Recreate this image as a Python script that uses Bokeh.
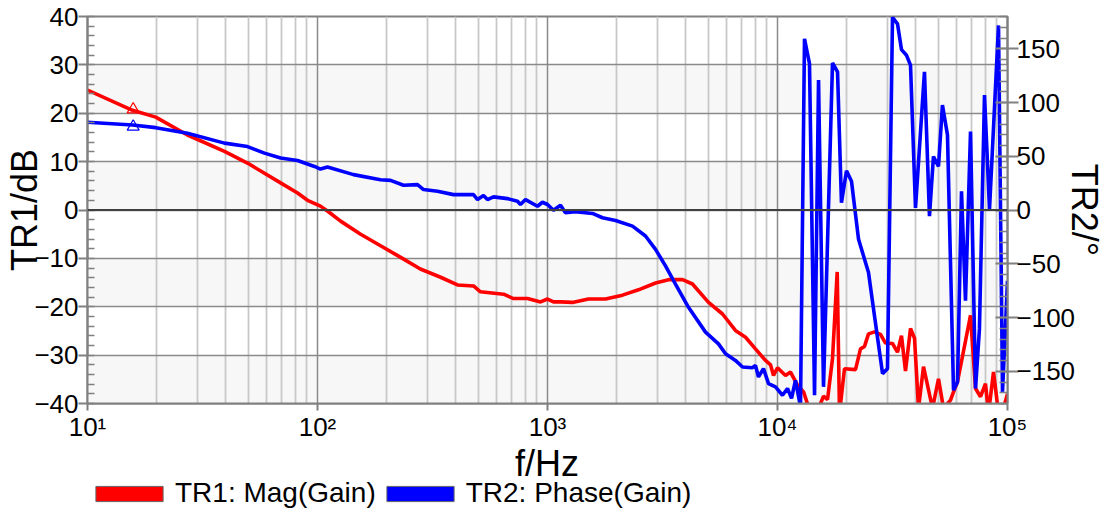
from bokeh.plotting import figure
from bokeh.layouts import column
from bokeh.models import (Range1d, LinearAxis, FixedTicker, Span, BoxAnnotation, Legend, LegendItem,
                          Label)
from bokeh.embed import file_html
from bokeh.resources import INLINE

FONT = "Liberation Sans"
NAN = float("nan")

# ---------------- data ----------------
freq_mag = [10, 15.7, 19.8, 27.2, 39.4, 49.6, 69.1, 81.9, 90.5, 103, 110.5, 126, 154, 188, 230, 280,
            343, 406, 477, 511, 644, 711, 819, 933, 1000, 1062, 1139, 1284, 1507, 1787, 2119, 2487,
            2949, 3359, 3864, 4268, 5012, 5768, 6563, 7261, 8019, 8868, 9326, 9608, 10000, 10834,
            11390, 12218, 12982, 13917, 15080, 15849, 16502, 17345, 18180, 18603, 19558, 21837,
            22955, 23895, 24870, 26410, 28040, 29480, 31623, 33240, 34600, 36020, 37870, 39420,
            41030, 43130, 47200, 50119, 52690, 56530, 58250, 60630, 69060, 72610, 76330, 80240,
            82690, 86940, 91400, 96080, 100000]
mag_db = [24.8, 20.6, 19.2, 15.5, 12.1, 9.7, 5.6, 3.5, 2.0, 0.8, -0.2, -2.3, -5.0, -7.4, -9.8, -12.2,
          -13.9, -15.5, -15.7, -16.9, -17.4, -18.3, -18.3, -19.0, -18.4, -19.0, -19.0, -19.1, -18.4,
          -18.4, -17.6, -16.5, -15.1, -14.4, -14.4, -15.3, -19.1, -21.5, -24.9, -26.3, -28.7, -31.1,
          -32.0, -34.2, -32.6, -34.2, -33.5, -36.2, -37.6, -42.0, -41.0, -38.5, -39.2, -30.7, -12.8,
          -42.0, -32.8, -33.0, -28.7, -28.2, -25.6, -25.2, -25.7, -27.5, -27.6, -29.4, -26.0, -33.3,
          -24.5, -26.5, -41.0, -32.4, -41.0, -34.9, -41.0, -39.3, -37.6, -35.5, -21.8, -36.9, -38.6,
          -35.9, -42.0, -33.5, -42.0, -41.0, -38.0]

freq_phase = [10, 15.7, 19.8, 27.2, 39.4, 49.6, 58.8, 69.1, 81.9, 97.0, 103, 110.5, 143.4, 187.9, 207.7,
              236.6, 272.2, 289, 332.5, 390.2, 476.8, 496.3, 526.9, 548.3, 582.1, 669.9, 740.6, 762.9,
              802.4, 904.6, 950.6, 1000, 1062, 1139, 1197, 1323, 1569, 1734, 1976, 2342, 2668, 2949,
              3258, 3601, 4102, 4864, 5539, 5943, 6563, 7046, 7786, 8019, 8268, 8690, 9141, 9800,
              10513, 11053, 11508, 11971, 12589, 13104, 13775, 14488, 15080, 15849, 17345, 18239,
              18970, 19953, 20975, 22510, 24870, 26150, 28620, 30070, 31623, 33240, 34600, 36390,
              37870, 39811, 43550, 45790, 47650, 50119, 52130, 54830, 58250, 60630, 63096, 65660,
              69060, 72610, 75510, 79430, 83520, 91400, 95130, 100000]
phase_deg = [81.6, 79.1, 76.6, 71.4, 62.2, 59.0, 52.9, 48.3, 46.1, 40.5, 38.1, 40.0, 32.9, 28.2, 27.6,
             23.0, 23.6, 19.0, 17.4, 14.3, 14.3, 9.7, 13.4, 9.7, 12.2, 10.6, 8.1, 5.1, 9.7, 3.5, 7.2,
             5.1, -0.2, 4.4, -2.6, -1.7, -3.2, -7.2, -9.7, -15.0, -24.2, -36.6, -52.0, -68.9, -90.5,
             -113.6, -124.5, -133.7, -139.9, -146.0, -146.7, -144.5, -155.3, -147.6, -161.5, -164.5,
             -172.3, -166.0, -175.3, -158.4, -183.0, 159.3, 136.2, -172.3, 120.8, -164.5, 136.8, 128.5,
             6.7, 36.6, 26.7, -27.3, -58.1, -92.1, -152.2, -147.6, 179.3, 173.2, 149.2, 143.9, 134.7,
             2.0, 128.5, -5.7, 49.8, 40.5, 97.6, 69.9, -167.7, -160.0, 17.4, -84.4, 73.0, -166.1,
             -110.6, 106.9, 0.5, 171.7, -169.2, -66.0]

marker_freq = [15.8]
marker_mag = [20.8]
marker_phase = [77.5]

x_ticks = [10, 100, 1000, 10000, 100000]
x_tick_labels = ["10\u00b9", "10\u00b2", "10\u00b3", "10\u2074", "10\u2075"]
y_ticks = [-40, -30, -20, -10, 0, 10, 20, 30, 40]
y2_ticks = [-150, -100, -50, 0, 50, 100, 150]
y_range_lim = (-40, 40)
y2_range_lim = (-180, 180)
x_range_lim = (10, 100000)

x_title = "f/Hz"
y_title = "TR1/dB"
y2_title = "TR2/\u00b0"
series_names = ["TR1: Mag(Gain)", "TR2: Phase(Gain)"]
series_colors = ["#ff0000", "#0000ff"]

W = 1108
LEFT, RIGHT, TOP = 87, 101, 16
H1 = 444

# ---------------- main figure ----------------
p = figure(width=W, height=H1, x_axis_type="log",
           x_range=Range1d(*x_range_lim), y_range=Range1d(*y_range_lim),
           output_backend="svg", toolbar_location=None,
           min_border_left=LEFT, min_border_right=RIGHT, min_border_top=TOP, min_border_bottom=39,
           background_fill_color="white", border_fill_color="white",
           outline_line_color="#808080", outline_line_width=2)

x_minor = [m * d for d in x_ticks[:-1] for m in range(2, 10)]
xticker = FixedTicker(ticks=x_ticks, minor_ticks=x_minor)
p.xaxis.ticker = xticker
p.xgrid.ticker = xticker
p.xaxis.major_label_overrides = {t: lab for t, lab in zip(x_ticks, x_tick_labels)}

y_minor = list(range(y_ticks[0], y_ticks[-1] + 1, 2))
yticker = FixedTicker(ticks=y_ticks, minor_ticks=y_minor)
p.yaxis.ticker = yticker
p.ygrid.ticker = yticker

p.xgrid.grid_line_color = "#8a8a8a"
p.xgrid.grid_line_width = 1.5
p.xgrid.minor_grid_line_color = "#c8c8c8"
p.xgrid.minor_grid_line_width = 1.8
p.ygrid.grid_line_color = "#8a8a8a"
p.ygrid.grid_line_width = 1.5

for i, t in enumerate(y_ticks[:-1]):
    if i % 2 == 0:
        p.add_layout(BoxAnnotation(bottom=t, top=y_ticks[i + 1], fill_color="#f7f7f7", fill_alpha=1,
                                   line_alpha=0, level="image"))
p.add_layout(Span(location=0, dimension="width", line_color="#404040", line_width=2))


def style_axis(ax, label, standoff, lab_standoff, tick_out, tick_in, minor_in):
    ax.axis_label = label
    ax.axis_label_text_font = FONT
    ax.axis_label_text_font_size = "36px"
    ax.axis_label_text_font_style = "normal"
    ax.axis_label_text_color = "black"
    ax.axis_label_standoff = standoff
    ax.major_label_text_font = FONT
    ax.major_label_text_font_size = "26px"
    ax.major_label_text_color = "black"
    ax.major_label_standoff = lab_standoff
    ax.major_tick_out = tick_out
    ax.major_tick_in = tick_in
    ax.minor_tick_out = 0
    ax.minor_tick_in = minor_in
    ax.axis_line_color = "#808080"
    ax.axis_line_width = 2
    ax.major_tick_line_color = "#808080"
    ax.major_tick_line_width = 2
    ax.minor_tick_line_color = "#808080"
    ax.minor_tick_line_width = 1.5


style_axis(p.xaxis[0], None, 0, 1, 7, 0, 0)
style_axis(p.yaxis[0], y_title, -14, 0, 9, 0, 7)

p.extra_y_ranges = {"phase": Range1d(*y2_range_lim)}
y2_minor = list(range(y2_range_lim[0], y2_range_lim[1] + 1, 10))
ra = LinearAxis(y_range_name="phase", ticker=FixedTicker(ticks=y2_ticks, minor_ticks=y2_minor))
style_axis(ra, y2_title, -14, -2, 11, 12, 8)
p.add_layout(ra, "right")

p.line(freq_mag, mag_db, line_color=series_colors[0], line_width=3.6)
p.line(freq_phase, phase_deg, line_color=series_colors[1], line_width=3.6, y_range_name="phase")
p.scatter(marker_freq, marker_mag, marker="triangle", size=12, fill_color=None,
          line_color=series_colors[0], line_width=1.2)
p.scatter(marker_freq, marker_phase, marker="triangle", size=12, fill_color=None,
          line_color=series_colors[1], line_width=1.2, y_range_name="phase")

# ---------------- strip below: x-axis title + legend ----------------
H2 = 65
p2 = figure(width=W, height=H2, x_range=Range1d(LEFT, W), y_range=Range1d(0, H2),
            output_backend="svg", toolbar_location=None,
            min_border_left=LEFT, min_border_right=0, min_border_top=0, min_border_bottom=0,
            x_axis_location=None, y_axis_location=None, outline_line_color=None,
            background_fill_color="white", border_fill_color="white")
p2.grid.visible = False
p2.add_layout(Label(x=597, y=46, text=x_title, text_align="center",
                    text_baseline="alphabetic", text_font=FONT, text_font_size="36px",
                    text_color="black"))

r1 = p2.quad(left=[NAN], right=[NAN], top=[NAN], bottom=[NAN], fill_color=series_colors[0],
             line_color="#666666")
r2 = p2.quad(left=[NAN], right=[NAN], top=[NAN], bottom=[NAN], fill_color=series_colors[1],
             line_color="#666666")
legend = Legend(items=[LegendItem(label=series_names[0], renderers=[r1]),
                       LegendItem(label=series_names[1], renderers=[r2])],
                orientation="horizontal", location="bottom_left",
                glyph_width=84, glyph_height=19, label_standoff=4, spacing=2,
                label_text_font=FONT, label_text_font_size="28px", label_text_color="black",
                padding=0, margin=0, border_line_alpha=0, background_fill_alpha=0)
p2.add_layout(legend)

layout = column(p, p2, spacing=0)
open("out.html", "w").write(file_html(layout, INLINE))
